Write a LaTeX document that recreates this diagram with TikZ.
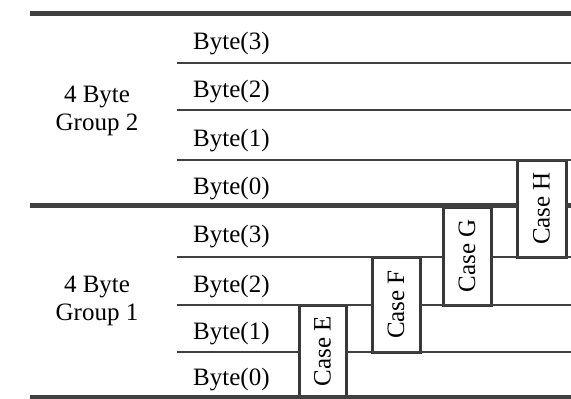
\documentclass[tikz,border=0pt]{standalone}
\usepackage{fontspec}
\setmainfont{Liberation Serif}
\begin{document}
\begin{tikzpicture}[x=1pt,y=-1pt,
  rule/.style={draw=black!75, line width=2.8pt},
  thickrule/.style={draw=black!75, line width=4.8pt},
  casebox/.style={draw=black!78, line width=3pt, inner sep=0pt, outer sep=0pt},
  lbl/.style={font=\fontsize{25}{28}\selectfont, inner sep=0pt, text=black},
  ]
\useasboundingbox[fill=white] (0,0) rectangle (571,399);

% case boxes
\node[casebox, minimum width=47pt, minimum height=92pt] (boxE) at (322.5,351) {};
\node[casebox, minimum width=48pt, minimum height=95pt] (boxF) at (396,304.5) {};
\node[casebox, minimum width=48pt, minimum height=98pt] (boxG) at (467,256) {};
\node[casebox, minimum width=49pt, minimum height=97pt] (boxH) at (541.5,208.5) {};

% horizontal rules
\coordinate (L0) at (30,13.5);   \coordinate (R0) at (571,13.5);
\coordinate (L1) at (177,63);    \coordinate (R1) at (571,63);
\coordinate (L2) at (177,110);   \coordinate (R2) at (571,110);
\coordinate (L3) at (177,160);   \coordinate (R3) at (571,160);
\coordinate (L4) at (30,205.5);  \coordinate (R4) at (571,205.5);
\coordinate (L5) at (177,257);   \coordinate (R5) at (571,257);
\coordinate (L6) at (177,305);   \coordinate (R6) at (571,305);
\coordinate (L7) at (177,352);   \coordinate (R7) at (571,352);
\coordinate (L8) at (30,397);    \coordinate (R8) at (571,397);

\draw[thickrule] (L0) -- (R0);
\draw[rule] (L1) -- (R1);
\draw[rule] (L2) -- (R2);
\draw[rule] (L3) -- (R3);
\draw[thickrule] (L4) -- (L4 -| boxH.west);
\draw[thickrule] (L4 -| boxH.east) -- (R4);
\draw[rule] (L5) -- (L5 -| boxG.west);
\draw[rule] (L5 -| boxG.east) -- (R5);
\draw[rule] (L6) -- (L6 -| boxF.west);
\draw[rule] (L6 -| boxF.east) -- (R6);
\draw[rule] (L7) -- (L7 -| boxE.west);
\draw[rule] (L7 -| boxE.east) -- (R7);
\draw[thickrule] (L8) -- (R8);

% case labels
\node[lbl, rotate=90] (caseE) at (boxE) {Case E};
\node[lbl, rotate=90] (caseF) at (boxF) {Case F};
\node[lbl, rotate=90] (caseG) at (boxG) {Case G};
\node[lbl, rotate=90] (caseH) at (boxH) {Case H};

% byte labels
\node[lbl, anchor=base west] (gAb3) at (193,49) {Byte(3)};
\node[lbl, anchor=base west] (gAb2) at (193,97) {Byte(2)};
\node[lbl, anchor=base west] (gAb1) at (193,146) {Byte(1)};
\node[lbl, anchor=base west] (gAb0) at (193,194) {Byte(0)};
\node[lbl, anchor=base west] (gBb3) at (193,242) {Byte(3)};
\node[lbl, anchor=base west] (gBb2) at (193,292) {Byte(2)};
\node[lbl, anchor=base west] (gBb1) at (193,339) {Byte(1)};
\node[lbl, anchor=base west] (gBb0) at (193,385) {Byte(0)};

% group labels
\node[lbl, align=center] (grpA) at (97,111) {4 Byte\\Group 2};
\node[lbl, align=center] (grpB) at (97,301) {4 Byte\\Group 1};
\end{tikzpicture}
\end{document}
